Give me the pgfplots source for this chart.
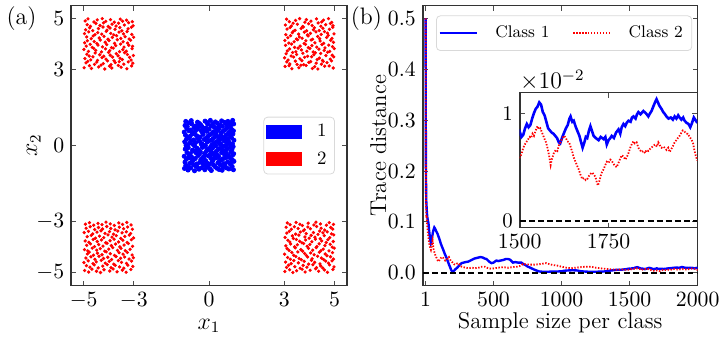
\documentclass[border=0pt]{standalone}
\usepackage{pgfplots}
\pgfplotsset{compat=1.18}
\usepackage{pgfplotstable}

% class 1 trace distance vs sample size
\pgfplotstableread{
n td
1 0.500
2 0.32
3 0.22
4 0.18
5 0.16
6 0.14
8 0.13
10 0.12
13 0.11
16 0.105
20 0.10
23 0.095
26 0.085
30 0.075
35 0.065
40 0.058
45 0.062
50 0.072
55 0.080
60 0.085
65 0.089
70 0.087
75 0.084
80 0.081
88 0.077
96 0.071
105 0.064
112 0.058
120 0.052
128 0.047
135 0.042
142 0.037
149 0.033
157 0.028
165 0.022
173 0.016
181 0.011
188 0.006
195 0.003
202 0.002
210 0.004
220 0.007
229 0.009
240 0.012
252 0.016
266 0.019
280 0.020
295 0.021
315 0.022
330 0.024
345 0.026
360 0.028
375 0.029
390 0.030
405 0.031
420 0.030
435 0.028
448 0.027
460 0.024
472 0.021
485 0.019
500 0.020
510 0.022
521 0.024
535 0.023
550 0.024
570 0.025
590 0.027
606 0.027
620 0.026
632 0.023
643 0.020
660 0.021
680 0.020
704 0.020
720 0.017
735 0.015
752 0.012
770 0.010
785 0.008
801 0.006
820 0.004
838 0.0025
860 0.002
900 0.002
940 0.0025
971 0.0025
1000 0.003
1020 0.004
1044 0.0045
1080 0.005
1117 0.0045
1140 0.003
1166 0.0025
1200 0.002
1250 0.002
1312 0.0025
1350 0.004
1380 0.005
1409 0.006
1440 0.006
1470 0.007
1500 0.0083
1505 0.0078
1510 0.0080
1515 0.0086
1520 0.0090
1525 0.0087
1530 0.0089
1535 0.0095
1540 0.0100
1545 0.0104
1550 0.0106
1555 0.0110
1560 0.0108
1565 0.0101
1570 0.0098
1575 0.0092
1580 0.0086
1585 0.0084
1590 0.0082
1595 0.0081
1600 0.0079
1605 0.0077
1610 0.0073
1614 0.0072
1620 0.0078
1625 0.0082
1630 0.0086
1635 0.0089
1640 0.0095
1643 0.0097
1648 0.0092
1652 0.0093
1658 0.0087
1663 0.0083
1668 0.0079
1672 0.0074
1677 0.0068
1682 0.0073
1686 0.0078
1690 0.0077
1695 0.0084
1699 0.0088
1703 0.0084
1708 0.0079
1714 0.0077
1722 0.0075
1728 0.0078
1736 0.0076
1741 0.0078
1745 0.0071
1750 0.0075
1755 0.0077
1759 0.0079
1765 0.0077
1771 0.0082
1778 0.0085
1783 0.0081
1787 0.0087
1792 0.0090
1797 0.0088
1801 0.0091
1806 0.0093
1812 0.0092
1816 0.0096
1820 0.0097
1826 0.0095
1830 0.0099
1834 0.0101
1840 0.0099
1848 0.0102
1855 0.0100
1862 0.0097
1867 0.0100
1871 0.0102
1877 0.0107
1882 0.0111
1885 0.0113
1889 0.0110
1893 0.0107
1899 0.0104
1904 0.0101
1909 0.0099
1913 0.0097
1919 0.0095
1925 0.0096
1931 0.0094
1936 0.0097
1941 0.0095
1946 0.0098
1950 0.0096
1955 0.0094
1960 0.0096
1964 0.0093
1970 0.0091
1975 0.0090
1980 0.0087
1985 0.0091
1990 0.0096
1994 0.0094
2000 0.0091
}\classone

% class 2 trace distance vs sample size
\pgfplotstableread{
n td
1 0.500
2 0.28
3 0.19
4 0.15
5 0.125
6 0.115
7 0.108
8 0.112
10 0.105
12 0.095
14 0.088
16 0.082
18 0.077
22 0.068
25 0.062
28 0.057
32 0.052
36 0.048
40 0.045
44 0.050
48 0.057
52 0.063
56 0.054
60 0.046
65 0.041
72 0.035
78 0.031
84 0.028
90 0.024
96 0.022
103 0.025
110 0.028
120 0.031
132 0.029
145 0.024
156 0.026
165 0.029
172 0.031
181 0.026
190 0.022
200 0.020
209 0.017
218 0.016
230 0.018
242 0.019
254 0.015
266 0.012
280 0.011
295 0.010
315 0.009
340 0.010
364 0.009
390 0.010
415 0.012
437 0.012
460 0.009
485 0.008
510 0.009
534 0.010
570 0.011
606 0.010
640 0.011
679 0.012
700 0.014
715 0.017
728 0.017
765 0.016
801 0.016
840 0.017
865 0.018
886 0.019
910 0.017
940 0.015
971 0.014
1000 0.012
1035 0.010
1068 0.009
1100 0.010
1140 0.011
1180 0.012
1214 0.012
1250 0.010
1280 0.009
1312 0.008
1350 0.007
1380 0.0065
1409 0.006
1440 0.0065
1470 0.006
1500 0.0059
1505 0.0062
1510 0.0068
1516 0.0072
1522 0.0075
1528 0.0078
1532 0.0077
1536 0.0081
1540 0.0079
1545 0.0084
1550 0.0088
1554 0.0085
1558 0.0086
1564 0.0081
1570 0.0076
1574 0.0073
1578 0.0068
1582 0.0062
1585 0.0056
1587 0.0052
1590 0.0057
1594 0.0061
1597 0.0064
1602 0.0066
1606 0.0065
1611 0.0071
1615 0.0073
1620 0.0077
1625 0.0079
1630 0.0077
1634 0.0074
1639 0.0073
1644 0.0068
1648 0.0064
1652 0.0059
1657 0.0055
1662 0.0051
1666 0.0048
1671 0.0043
1676 0.0039
1681 0.0040
1686 0.0038
1690 0.0039
1695 0.0042
1700 0.0044
1704 0.0045
1709 0.0043
1713 0.0041
1717 0.0036
1720 0.0033
1724 0.0037
1728 0.0042
1731 0.0045
1736 0.0048
1741 0.0052
1745 0.0055
1750 0.0054
1755 0.0057
1759 0.0056
1764 0.0053
1769 0.0051
1773 0.0050
1778 0.0054
1783 0.0058
1787 0.0061
1792 0.0060
1797 0.0057
1801 0.0059
1806 0.0063
1811 0.0068
1815 0.0071
1820 0.0074
1824 0.0072
1829 0.0073
1834 0.0068
1838 0.0066
1843 0.0064
1848 0.0065
1853 0.0063
1857 0.0066
1862 0.0065
1867 0.0067
1871 0.0068
1876 0.0070
1881 0.0071
1886 0.0069
1890 0.0073
1895 0.0070
1899 0.0068
1904 0.0069
1908 0.0068
1913 0.0066
1918 0.0068
1922 0.0064
1927 0.0067
1932 0.0070
1936 0.0073
1941 0.0075
1945 0.0077
1950 0.0079
1955 0.0082
1959 0.0084
1964 0.0083
1969 0.0081
1973 0.0081
1978 0.0078
1983 0.0076
1988 0.0072
1992 0.0065
1996 0.0060
2000 0.0056
}\classtwo

\begin{document}
\begin{tikzpicture}[font=\fontsize{10.5}{12}\selectfont]
\pgfplotsset{
  every axis/.append style={
    scale only axis,
    axis line style={black!80, line width=0.8pt},
    tick align=inside,
    major tick length=2.5pt,
    tick style={black!70, line width=0.5pt},
    label style={font=\fontsize{11.5}{13}\selectfont},
    scaled ticks=false,
  },
}

% (a) training data
\begin{axis}[
  at={(0pt,0pt)}, anchor=south west,
  width=139pt, height=141pt,
  xmin=-5.5, xmax=5.5, ymin=-5.5, ymax=5.5,
  xtick={-5,-3,0,3,5}, ytick={-5,-3,0,3,5},
  xlabel={$x_1$}, ylabel={$x_2$},
  xlabel shift=-1.5pt, ylabel shift=-9pt,
  legend style={at={(0.956,0.5)}, anchor=east, draw=black!15, rounded corners=2pt,
    font=\fontsize{9.5}{10}\selectfont, row sep=3pt, inner xsep=1pt, inner ysep=2pt,
    nodes={inner xsep=3pt, inner ysep=1.5pt},
    /tikz/every odd column/.append style={column sep=4.5pt}},
  legend cell align=left,
]
\addplot[only marks, mark=*, mark size=1.05pt, color=blue, mark options={draw=none, fill=blue}, forget plot] coordinates {
(-0.98,-0.90) (-0.84,-0.96) (-0.73,-0.88) (-0.58,-0.99) (-0.40,-0.93) (-0.29,-0.87) (-0.17,-0.95) (0.03,-0.91) (0.09,-0.98) (0.31,-0.89) (0.40,-0.94) (0.52,-0.97) (0.70,-0.88) (0.79,-0.92) (0.97,-0.95)
(-0.93,-0.78) (-0.85,-0.84) (-0.62,-0.75) (-0.53,-0.81) (-0.46,-0.86) (-0.22,-0.74) (-0.12,-0.80) (-0.05,-0.85) (0.18,-0.77) (0.24,-0.83) (0.45,-0.76) (0.57,-0.86) (0.63,-0.79) (0.86,-0.74) (0.92,-0.82)
(-0.96,-0.65) (-0.77,-0.70) (-0.68,-0.61) (-0.49,-0.72) (-0.37,-0.66) (-0.30,-0.62) (-0.08,-0.69) (0.01,-0.73) (0.13,-0.63) (0.35,-0.68) (0.42,-0.60) (0.59,-0.71) (0.74,-0.64) (0.83,-0.70) (0.99,-0.62)
(-0.91,-0.53) (-0.81,-0.48) (-0.64,-0.58) (-0.55,-0.51) (-0.33,-0.55) (-0.25,-0.47) (-0.14,-0.59) (0.07,-0.50) (0.15,-0.56) (0.27,-0.49) (0.48,-0.57) (0.55,-0.52) (0.67,-0.47) (0.90,-0.54) (0.95,-0.59)
(-0.99,-0.42) (-0.79,-0.36) (-0.70,-0.45) (-0.44,-0.39) (-0.39,-0.34) (-0.20,-0.44) (-0.03,-0.40) (0.05,-0.35) (0.22,-0.46) (0.33,-0.38) (0.38,-0.43) (0.62,-0.36) (0.76,-0.41) (0.80,-0.46) (0.94,-0.37)
(-0.88,-0.27) (-0.75,-0.32) (-0.59,-0.22) (-0.51,-0.29) (-0.35,-0.24) (-0.18,-0.31) (-0.10,-0.21) (0.10,-0.26) (0.19,-0.33) (0.29,-0.23) (0.50,-0.28) (0.64,-0.20) (0.69,-0.30) (0.87,-0.25) (0.98,-0.32)
(-0.95,-0.14) (-0.83,-0.08) (-0.66,-0.18) (-0.47,-0.11) (-0.42,-0.19) (-0.27,-0.07) (-0.06,-0.13) (0.02,-0.17) (0.14,-0.09) (0.36,-0.15) (0.44,-0.10) (0.54,-0.19) (0.73,-0.12) (0.85,-0.07) (0.91,-0.16)
(-0.92,0.02) (-0.86,-0.05) (-0.63,0.04) (-0.57,-0.02) (-0.31,0.06) (-0.23,-0.04) (-0.15,0.01) (0.06,-0.06) (0.11,0.03) (0.26,-0.01) (0.47,0.05) (0.58,-0.03) (0.66,0.00) (0.82,0.06) (0.96,-0.04)
(-0.97,0.15) (-0.78,0.09) (-0.72,0.19) (-0.54,0.12) (-0.38,0.17) (-0.28,0.07) (-0.07,0.14) (-0.01,0.19) (0.20,0.10) (0.32,0.16) (0.41,0.08) (0.60,0.18) (0.71,0.11) (0.78,0.16) (0.93,0.07)
(-0.90,0.25) (-0.82,0.31) (-0.61,0.22) (-0.45,0.28) (-0.36,0.32) (-0.19,0.24) (-0.11,0.30) (0.08,0.21) (0.16,0.27) (0.37,0.33) (0.43,0.23) (0.51,0.29) (0.75,0.26) (0.89,0.32) (0.99,0.21)
(-0.94,0.41) (-0.76,0.36) (-0.67,0.46) (-0.50,0.39) (-0.41,0.34) (-0.24,0.44) (-0.04,0.37) (0.04,0.43) (0.23,0.35) (0.28,0.45) (0.46,0.40) (0.61,0.34) (0.68,0.42) (0.84,0.38) (0.95,0.46)
(-0.99,0.53) (-0.80,0.58) (-0.65,0.49) (-0.56,0.55) (-0.32,0.59) (-0.26,0.50) (-0.09,0.56) (0.12,0.48) (0.17,0.54) (0.34,0.59) (0.49,0.51) (0.56,0.57) (0.77,0.47) (0.81,0.53) (0.97,0.58)
(-0.89,0.67) (-0.74,0.61) (-0.60,0.71) (-0.48,0.64) (-0.43,0.73) (-0.21,0.62) (-0.13,0.69) (0.00,0.65) (0.21,0.72) (0.30,0.61) (0.39,0.68) (0.65,0.63) (0.72,0.70) (0.88,0.66) (0.92,0.60)
(-0.96,0.79) (-0.87,0.74) (-0.69,0.85) (-0.52,0.77) (-0.34,0.82) (-0.29,0.75) (-0.05,0.84) (0.09,0.78) (0.15,0.86) (0.38,0.74) (0.45,0.81) (0.53,0.76) (0.70,0.83) (0.86,0.79) (0.98,0.85)
(-0.93,0.95) (-0.81,0.89) (-0.71,0.98) (-0.46,0.92) (-0.39,0.87) (-0.16,0.96) (-0.08,0.90) (0.05,0.99) (0.25,0.93) (0.33,0.88) (0.50,0.97) (0.63,0.91) (0.75,0.95) (0.84,0.88) (0.94,0.99)
};
\addplot[only marks, mark=*, mark size=0.62pt, color=red, mark options={draw=none, fill=red}, forget plot] coordinates {
(3.03,3.11) (3.19,3.14) (3.30,3.02) (3.58,3.06) (3.66,3.16) (3.87,3.15) (4.12,3.03) (4.21,3.10) (4.34,3.01) (4.61,3.12) (4.79,3.13) (4.95,3.05)
(3.10,3.29) (3.22,3.21) (3.44,3.32) (3.51,3.19) (3.77,3.18) (3.98,3.27) (4.05,3.30) (4.27,3.24) (4.48,3.20) (4.55,3.31) (4.70,3.26) (4.88,3.33)
(3.01,3.45) (3.15,3.36) (3.37,3.48) (3.62,3.41) (3.70,3.34) (3.81,3.47) (4.09,3.49) (4.31,3.38) (4.40,3.44) (4.52,3.35) (4.83,3.40) (4.97,3.49)
(3.07,3.61) (3.27,3.52) (3.33,3.66) (3.49,3.58) (3.74,3.63) (3.93,3.51) (4.18,3.57) (4.24,3.65) (4.45,3.62) (4.66,3.54) (4.73,3.67) (4.91,3.55)
(3.12,3.72) (3.21,3.80) (3.46,3.69) (3.55,3.83) (3.68,3.76) (3.90,3.71) (4.02,3.82) (4.15,3.68) (4.38,3.79) (4.59,3.74) (4.81,3.70) (4.99,3.81)
(3.05,3.94) (3.29,3.99) (3.41,3.86) (3.63,3.91) (3.84,3.98) (3.96,3.85) (4.10,3.93) (4.29,3.87) (4.50,3.97) (4.62,3.84) (4.77,3.95) (4.92,3.89)
(3.02,4.13) (3.18,4.03) (3.39,4.08) (3.53,4.16) (3.79,4.01) (3.86,4.12) (4.07,4.15) (4.22,4.04) (4.43,4.11) (4.57,4.02) (4.85,4.14) (4.96,4.06)
(3.14,4.24) (3.25,4.32) (3.48,4.19) (3.60,4.27) (3.71,4.22) (3.95,4.31) (4.13,4.18) (4.33,4.29) (4.41,4.20) (4.69,4.25) (4.75,4.33) (4.90,4.21)
(3.06,4.36) (3.32,4.44) (3.36,4.49) (3.57,4.38) (3.80,4.46) (3.92,4.35) (4.04,4.41) (4.26,4.47) (4.47,4.37) (4.60,4.48) (4.72,4.42) (4.98,4.39)
(3.11,4.58) (3.23,4.64) (3.43,4.53) (3.67,4.60) (3.76,4.66) (3.89,4.51) (4.16,4.55) (4.20,4.63) (4.39,4.52) (4.54,4.61) (4.80,4.57) (4.93,4.65)
(3.04,4.74) (3.28,4.70) (3.35,4.81) (3.52,4.77) (3.73,4.68) (3.97,4.79) (4.11,4.72) (4.35,4.82) (4.46,4.69) (4.65,4.75) (4.84,4.80) (4.94,4.71)
(3.09,4.97) (3.20,4.87) (3.45,4.92) (3.61,4.99) (3.82,4.85) (3.88,4.95) (4.06,4.89) (4.28,4.98) (4.49,4.86) (4.56,4.93) (4.76,4.99) (4.89,4.84)
(-4.98,3.06) (-4.77,3.14) (-4.69,3.03) (-4.40,3.09) (-4.31,3.16) (-4.16,3.01) (-3.97,3.12) (-3.88,3.05) (-3.62,3.15) (-3.51,3.08) (-3.28,3.02) (-3.09,3.13)
(-4.91,3.25) (-4.84,3.31) (-4.57,3.19) (-4.48,3.28) (-4.22,3.22) (-4.05,3.33) (-3.91,3.18) (-3.74,3.26) (-3.58,3.30) (-3.40,3.20) (-3.22,3.29) (-3.04,3.24)
(-4.95,3.42) (-4.72,3.37) (-4.63,3.49) (-4.45,3.35) (-4.27,3.46) (-4.11,3.40) (-3.85,3.48) (-3.79,3.34) (-3.55,3.43) (-3.46,3.38) (-3.17,3.47) (-3.11,3.36)
(-4.87,3.59) (-4.78,3.52) (-4.54,3.64) (-4.36,3.57) (-4.20,3.51) (-4.01,3.66) (-3.94,3.55) (-3.70,3.61) (-3.63,3.53) (-3.37,3.65) (-3.26,3.58) (-3.02,3.54)
(-4.99,3.78) (-4.81,3.70) (-4.60,3.82) (-4.52,3.74) (-4.29,3.68) (-4.13,3.80) (-3.96,3.73) (-3.82,3.83) (-3.57,3.69) (-3.44,3.77) (-3.30,3.71) (-3.07,3.81)
(-4.90,3.91) (-4.74,3.98) (-4.66,3.86) (-4.43,3.95) (-4.25,3.88) (-4.08,3.97) (-3.89,3.85) (-3.72,3.93) (-3.53,3.99) (-3.39,3.87) (-3.20,3.94) (-3.05,3.90)
(-4.96,4.04) (-4.85,4.12) (-4.58,4.09) (-4.47,4.01) (-4.34,4.15) (-4.14,4.06) (-3.99,4.13) (-3.77,4.02) (-3.66,4.16) (-3.43,4.08) (-3.25,4.03) (-3.13,4.14)
(-4.88,4.27) (-4.70,4.20) (-4.62,4.31) (-4.38,4.23) (-4.19,4.29) (-4.03,4.18) (-3.86,4.25) (-3.69,4.32) (-3.52,4.21) (-3.35,4.28) (-3.19,4.19) (-3.01,4.26)
(-4.97,4.40) (-4.80,4.47) (-4.55,4.36) (-4.44,4.44) (-4.28,4.38) (-4.10,4.49) (-3.92,4.41) (-3.80,4.35) (-3.59,4.46) (-3.41,4.39) (-3.27,4.48) (-3.08,4.37)
(-4.92,4.55) (-4.76,4.63) (-4.64,4.52) (-4.41,4.60) (-4.23,4.66) (-4.07,4.54) (-3.95,4.62) (-3.75,4.57) (-3.56,4.64) (-3.48,4.51) (-3.23,4.59) (-3.10,4.65)
(-4.86,4.75) (-4.73,4.69) (-4.51,4.80) (-4.35,4.72) (-4.21,4.82) (-4.02,4.68) (-3.87,4.77) (-3.71,4.70) (-3.61,4.81) (-3.38,4.74) (-3.21,4.83) (-3.03,4.71)
(-4.94,4.90) (-4.83,4.98) (-4.59,4.86) (-4.46,4.94) (-4.26,4.99) (-4.12,4.88) (-3.93,4.95) (-3.78,4.85) (-3.54,4.97) (-3.45,4.89) (-3.29,4.93) (-3.06,4.87)
(-4.96,-4.91) (-4.80,-4.97) (-4.67,-4.86) (-4.49,-4.94) (-4.33,-4.99) (-4.19,-4.88) (-3.96,-4.93) (-3.83,-4.85) (-3.67,-4.96) (-3.46,-4.90) (-3.31,-4.98) (-3.12,-4.87)
(-4.89,-4.72) (-4.75,-4.78) (-4.58,-4.69) (-4.42,-4.81) (-4.24,-4.74) (-4.06,-4.68) (-3.91,-4.80) (-3.74,-4.71) (-3.57,-4.77) (-3.40,-4.82) (-3.24,-4.70) (-3.04,-4.75)
(-4.99,-4.60) (-4.82,-4.53) (-4.63,-4.64) (-4.50,-4.57) (-4.30,-4.51) (-4.14,-4.62) (-3.98,-4.55) (-3.80,-4.66) (-3.62,-4.52) (-3.49,-4.59) (-3.29,-4.63) (-3.09,-4.54)
(-4.91,-4.42) (-4.71,-4.37) (-4.55,-4.47) (-4.39,-4.35) (-4.21,-4.44) (-4.04,-4.39) (-3.89,-4.48) (-3.71,-4.36) (-3.53,-4.43) (-3.37,-4.38) (-3.19,-4.46) (-3.02,-4.41)
(-4.85,-4.26) (-4.78,-4.19) (-4.61,-4.31) (-4.45,-4.23) (-4.27,-4.29) (-4.10,-4.18) (-3.94,-4.25) (-3.77,-4.32) (-3.59,-4.21) (-3.43,-4.27) (-3.26,-4.20) (-3.07,-4.30)
(-4.97,-4.09) (-4.84,-4.14) (-4.66,-4.03) (-4.48,-4.11) (-4.34,-4.05) (-4.16,-4.15) (-4.00,-4.07) (-3.84,-4.01) (-3.65,-4.12) (-3.51,-4.04) (-3.34,-4.13) (-3.15,-4.08)
(-4.88,-3.92) (-4.73,-3.86) (-4.57,-3.97) (-4.40,-3.89) (-4.23,-3.95) (-4.07,-3.84) (-3.90,-3.93) (-3.73,-3.87) (-3.56,-3.98) (-3.39,-3.91) (-3.22,-3.85) (-3.05,-3.96)
(-4.94,-3.75) (-4.79,-3.80) (-4.62,-3.69) (-4.46,-3.77) (-4.29,-3.71) (-4.12,-3.82) (-3.95,-3.74) (-3.79,-3.68) (-3.61,-3.79) (-3.44,-3.72) (-3.27,-3.81) (-3.10,-3.70)
(-4.86,-3.58) (-4.70,-3.53) (-4.53,-3.64) (-4.37,-3.56) (-4.20,-3.62) (-4.03,-3.51) (-3.87,-3.60) (-3.70,-3.54) (-3.52,-3.65) (-3.36,-3.57) (-3.18,-3.52) (-3.01,-3.63)
(-4.98,-3.42) (-4.81,-3.37) (-4.64,-3.47) (-4.47,-3.40) (-4.31,-3.35) (-4.15,-3.45) (-3.97,-3.38) (-3.81,-3.48) (-3.64,-3.36) (-3.47,-3.43) (-3.30,-3.39) (-3.13,-3.46)
(-4.90,-3.25) (-4.74,-3.19) (-4.56,-3.30) (-4.41,-3.22) (-4.25,-3.28) (-4.08,-3.18) (-3.92,-3.26) (-3.75,-3.31) (-3.58,-3.21) (-3.41,-3.27) (-3.25,-3.20) (-3.06,-3.29)
(-4.93,-3.09) (-4.77,-3.03) (-4.60,-3.13) (-4.43,-3.06) (-4.27,-3.11) (-4.11,-3.01) (-3.94,-3.08) (-3.78,-3.14) (-3.60,-3.04) (-3.45,-3.10) (-3.28,-3.02) (-3.11,-3.12)
(3.02,-4.95) (3.21,-4.88) (3.34,-4.99) (3.49,-4.92) (3.71,-4.86) (3.83,-4.97) (4.03,-4.90) (4.25,-4.84) (4.37,-4.94) (4.60,-4.89) (4.72,-4.98) (4.94,-4.87)
(3.09,-4.79) (3.17,-4.70) (3.42,-4.76) (3.63,-4.82) (3.75,-4.71) (3.90,-4.78) (4.14,-4.68) (4.28,-4.80) (4.45,-4.73) (4.53,-4.81) (4.80,-4.69) (4.98,-4.77)
(3.05,-4.58) (3.27,-4.64) (3.38,-4.52) (3.56,-4.61) (3.79,-4.55) (3.97,-4.66) (4.08,-4.51) (4.21,-4.59) (4.42,-4.65) (4.65,-4.54) (4.76,-4.62) (4.90,-4.53)
(3.13,-4.40) (3.24,-4.47) (3.46,-4.36) (3.59,-4.44) (3.68,-4.49) (3.93,-4.38) (4.11,-4.45) (4.33,-4.35) (4.48,-4.42) (4.57,-4.48) (4.84,-4.37) (4.96,-4.46)
(3.01,-4.27) (3.30,-4.20) (3.37,-4.31) (3.54,-4.18) (3.81,-4.24) (3.88,-4.32) (4.05,-4.22) (4.19,-4.29) (4.40,-4.19) (4.63,-4.26) (4.70,-4.33) (4.92,-4.21)
(3.11,-4.05) (3.19,-4.12) (3.44,-4.02) (3.66,-4.09) (3.73,-4.15) (3.96,-4.04) (4.13,-4.11) (4.27,-4.01) (4.46,-4.13) (4.55,-4.07) (4.78,-4.14) (4.99,-4.03)
(3.06,-3.94) (3.25,-3.87) (3.41,-3.98) (3.52,-3.90) (3.77,-3.85) (3.91,-3.96) (4.02,-3.89) (4.30,-3.97) (4.39,-3.86) (4.62,-3.93) (4.83,-3.88) (4.91,-3.99)
(3.14,-3.72) (3.22,-3.79) (3.48,-3.69) (3.61,-3.76) (3.70,-3.82) (3.85,-3.71) (4.10,-3.78) (4.24,-3.68) (4.49,-3.75) (4.67,-3.81) (4.74,-3.70) (4.95,-3.77)
(3.03,-3.61) (3.32,-3.55) (3.36,-3.65) (3.58,-3.52) (3.82,-3.59) (3.99,-3.64) (4.07,-3.53) (4.22,-3.60) (4.43,-3.66) (4.59,-3.54) (4.81,-3.62) (4.97,-3.51)
(3.10,-3.44) (3.20,-3.37) (3.45,-3.48) (3.64,-3.40) (3.76,-3.35) (3.87,-3.46) (4.16,-3.42) (4.34,-3.49) (4.41,-3.36) (4.54,-3.43) (4.71,-3.39) (4.88,-3.47)
(3.07,-3.21) (3.28,-3.29) (3.40,-3.19) (3.55,-3.26) (3.80,-3.31) (3.94,-3.20) (4.04,-3.27) (4.29,-3.18) (4.47,-3.25) (4.61,-3.32) (4.85,-3.22) (4.93,-3.28)
(3.12,-3.04) (3.23,-3.11) (3.47,-3.02) (3.62,-3.09) (3.72,-3.14) (3.95,-3.05) (4.18,-3.12) (4.26,-3.01) (4.44,-3.08) (4.68,-3.13) (4.79,-3.03) (4.96,-3.10)
};
\addlegendimage{legend image code/.code={\fill[blue, sharp corners] (0pt,-3.25pt) rectangle (18pt,3.25pt);}}
\addlegendentry{1}
\addlegendimage{legend image code/.code={\fill[red, sharp corners] (0pt,-3.25pt) rectangle (18pt,3.25pt);}}
\addlegendentry{2}
\end{axis}

% (b) trace distance
\begin{axis}[
  at={(177.15pt,0pt)}, anchor=south west,
  width=138.5pt, height=141pt,
  xmin=-20, xmax=2000, ymin=-0.025, ymax=0.525,
  xtick={1,500,1000,1500,2000}, ytick={0,0.1,0.2,0.3,0.4,0.5},
  yticklabel style={/pgf/number format/.cd, fixed, fixed zerofill, precision=1},
  xticklabel style={/pgf/number format/1000 sep={}},
  xlabel={Sample size per class}, ylabel={Trace distance},
  xlabel shift=-4pt, ylabel shift=-6pt,
  legend columns=2,
  legend image code/.code={\draw[#1, sharp corners] (0pt,0pt) -- (19pt,0pt);},
  legend style={at={(0.98,0.965)}, anchor=north east, draw=black!15, rounded corners=2pt,
    font=\fontsize{8.5}{10}\selectfont, inner xsep=1pt, inner ysep=3pt,
    nodes={inner xsep=3.5pt},
    /tikz/every odd column/.append style={column sep=5pt},
    /tikz/every even column/.append style={column sep=8pt}},
  legend cell align=left,
]
\addplot[blue, line width=1.2pt] table[x=n, y=td] {\classone};
\addlegendentry{Class 1}
\addplot[red, line width=0.9pt, dash pattern=on 0.7pt off 0.8pt] table[x=n, y=td] {\classtwo};
\addlegendentry{Class 2}
\addplot[black, line width=0.9pt, dash pattern=on 3pt off 1.6pt, forget plot] coordinates {(-20,0) (2000,0)};
\end{axis}

% inset
\begin{axis}[
  at={(226pt,29.15pt)}, anchor=south west,
  width=89.5pt, height=68pt,
  xmin=1500, xmax=2000, ymin=-0.0006, ymax=0.0119,
  xtick={1500,1750}, ytick={0,0.01}, yticklabels={0,1},
  xticklabel style={/pgf/number format/1000 sep={}},
  axis background/.style={fill=white},
  clip mode=individual,
]
\addplot[blue, line width=1.3pt] table[x=n, y=td] {\classone};
\addplot[red, line width=0.9pt, dash pattern=on 0.7pt off 0.8pt] table[x=n, y=td] {\classtwo};
\addplot[black, line width=0.9pt, dash pattern=on 3pt off 1.6pt] coordinates {(1500,0) (2000,0)};
\node[anchor=south west, inner sep=0pt, font=\fontsize{11.5}{13}\selectfont] at (rel axis cs:0,1.01) {$\times10^{-2}$};
\end{axis}

\node[font=\fontsize{12}{14}\selectfont] at (-25pt,134.25pt) {(a)};
\node[font=\fontsize{12}{14}\selectfont] at (148.75pt,134.5pt) {(b)};
\path (-35pt,-25.5pt) rectangle (328pt,143pt);
\end{tikzpicture}
\end{document}
